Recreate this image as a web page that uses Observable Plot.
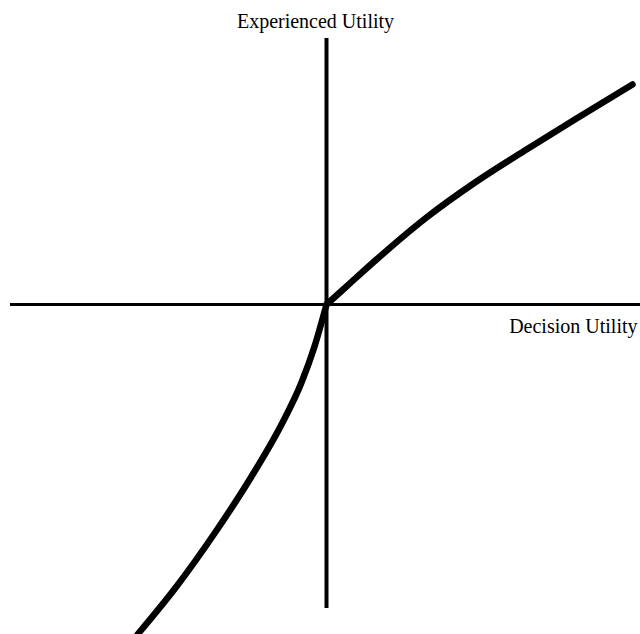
<!DOCTYPE html>
<html>
<head>
<meta charset="utf-8">
<script src="https://cdn.jsdelivr.net/npm/d3@7"></script>
<script src="https://cdn.jsdelivr.net/npm/@observablehq/plot@0.6"></script>
<style>
  html, body { margin: 0; padding: 0; background: #fff; }
</style>
</head>
<body>
<div id="chart"></div>
<script>
// Decision utility (x) vs experienced utility (y) (arbitrary units)
const decisionUtility = [-189, -150, -110, -75, -45, -25, -12, 0, 20, 50, 100, 150, 200, 250, 306];
const experiencedUtility = [-330, -282, -226, -172, -120, -78, -42, 0, 18, 45, 87, 123, 155, 186, 220];

const xAxisLabel = "Decision Utility";
const yAxisLabel = "Experienced Utility";

// Loss branch (x <= 0) and gain branch (x >= 0) share the origin
const curve = [];
decisionUtility.forEach((d, i) => {
  if (d <= 0) curve.push({x: d, y: experiencedUtility[i], branch: "loss"});
  if (d >= 0) curve.push({x: d, y: experiencedUtility[i], branch: "gain"});
});

const chart = Plot.plot({
  width: 640,
  height: 634,
  margin: 0,
  x: {domain: [-326, 314], axis: null},
  y: {domain: [-330, 304], axis: null},
  style: {background: "#fff"},
  marks: [
    Plot.ruleY([0], {x1: -316, x2: 314, stroke: "#000", strokeWidth: 3}),
    Plot.ruleX([0], {y1: -304, y2: 266, stroke: "#000", strokeWidth: 4}),
    Plot.line(curve, {x: "x", y: "y", z: "branch", curve: "monotone-x", stroke: "#000", strokeWidth: 6.5, strokeLinecap: "round"}),
    Plot.text([yAxisLabel], {x: 0, y: 304, dx: -11, dy: 21, text: d => d, fontFamily: "Liberation Serif", fontSize: 20, fill: "#000", textAnchor: "middle"}),
    Plot.text([xAxisLabel], {x: 314, y: 0, dx: -3, dy: 22, text: d => d, fontFamily: "Liberation Serif", fontSize: 20, fill: "#000", textAnchor: "end"})
  ]
});
document.getElementById("chart").appendChild(chart);
</script>
</body>
</html>
